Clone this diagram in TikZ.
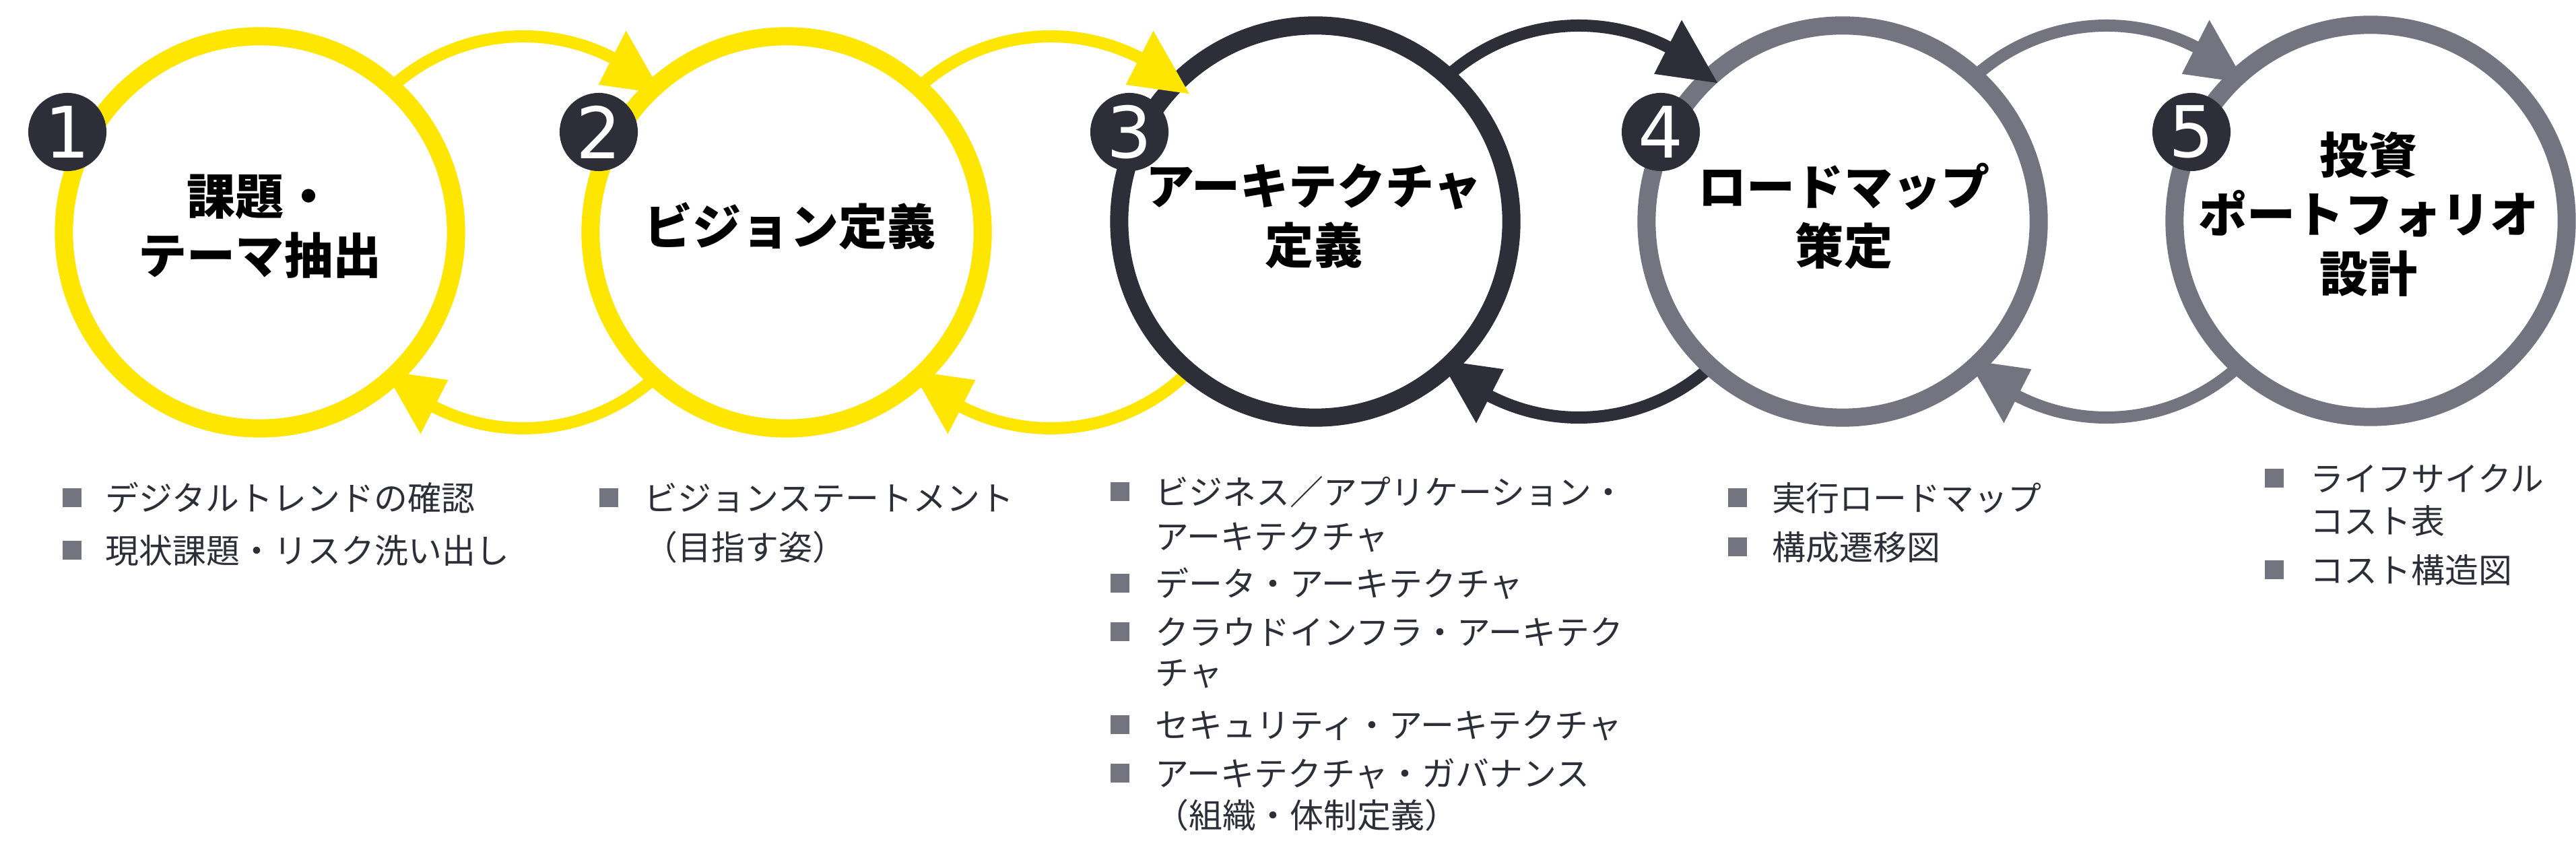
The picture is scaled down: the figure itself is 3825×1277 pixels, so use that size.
\documentclass[tikz,border=0pt]{standalone}
\usepackage{fontspec}
\setmainfont{Noto Sans CJK JP}
\newfontfamily\digitfont{DejaVu Sans}
\usetikzlibrary{calc}
\definecolor{eyyellow}{HTML}{FFE600}
\definecolor{eydark}{HTML}{2E2E38}
\definecolor{eygrey}{HTML}{747480}
\begin{document}
\begin{tikzpicture}[x=0.01cm,y=-0.01cm,
  ring/.style={circle, line width=0.27cm, fill=white, minimum size=5.82cm, inner sep=0pt},
  link/.style={line width=0.18cm},
  badge/.style={circle, fill=eydark, minimum size=1.16cm, inner sep=0pt, text=white,
    font=\digitfont\fontsize{30}{30}\selectfont},
  ttl/.style={align=center, font=\bfseries\fontsize{20.5}{25}\selectfont, text=black, inner sep=0pt},
  itm/.style={anchor=west, inner sep=0pt, text=eydark, font=\fontsize{14.2}{17}\selectfont,
    text height=0.44cm, text depth=0.06cm},
  sq/.style={fill=eygrey, minimum size=0.28cm, inner sep=0pt}
]
\useasboundingbox[fill=white] (0,0) rectangle (3825,1277);

% centres of the link arcs
\coordinate (M12) at (777,345);
\coordinate (M23) at (1560,345);
\coordinate (M34) at (2344.5,329);
\coordinate (M45) at (3128,329);

% link arcs (behind the rings)
\foreach \m/\c in {M12/eyyellow, M23/eyyellow, M34/eydark, M45/eygrey}{
  \coordinate (\m us) at ($(\m)+(-140:291)$);
  \coordinate (\m ls) at ($(\m)+(40:291)$);
  \draw[link, \c] (\m us) arc[start angle=-140, end angle=-58, radius=291];
  \draw[link, \c] (\m ls) arc[start angle=40, end angle=122, radius=291];
}

% rings
\node[ring, draw=eyyellow] (c1) at (386,345) {};
\node[ring, draw=eyyellow] (c2) at (1168,345) {};
\node[ring, draw=eydark] (c3) at (1953,329) {};
\node[ring, draw=eygrey] (c4) at (2736,329) {};
\node[ring, draw=eygrey] (c5) at (3520,328) {};

% arrow heads
\foreach \m/\c in {M12/eyyellow, M23/eyyellow, M34/eydark, M45/eygrey}{
  \fill[\c] ($(\m)+(-45:291)$) -- ($(\m)+(-63:246)$) -- ($(\m)+(-63:336)$) -- cycle;
  \fill[\c] ($(\m)+(135:291)$) -- ($(\m)+(117:246)$) -- ($(\m)+(117:336)$) -- cycle;
}

% number badges
\node[badge] (b1) at (100,196) {1};
\node[badge] (b2) at (889,196) {2};
\node[badge] (b3) at (1677,196) {3};
\node[badge] (b4) at (2466,196) {4};
\node[badge] (b5) at (3254,196) {5};

% titles
\node[ttl] (t1) at (386,336) {課題・\\テーマ抽出};
\node[ttl] (t2) at (1173,336) {ビジョン定義};
\node[ttl] (t3) at (1951,321) {アーキテクチャ\\定義};
\node[ttl] (t4) at (2738,321) {ロードマップ\\策定};
\node[ttl] (t5) at (3517,318) {投資\\ポートフォリオ\\設計};

% list 1
\node[sq] (s1a) at (107,739) {};
\node[itm] (l1a) at (156,739) {デジタルトレンドの確認};
\node[sq] (s1b) at (107,817) {};
\node[itm] (l1b) at (156,817) {現状課題・リスク洗い出し};
% list 2
\node[sq] (s2a) at (904,739) {};
\node[itm] (l2a) at (956,739) {ビジョンステートメント};
\node[itm] (l2b) at (956,812) {（目指す姿）};
% list 3
\node[sq] (s3a) at (1663,730) {};
\node[itm] (l3a) at (1715,730) {ビジネス／アプリケーション・};
\node[itm] (l3b) at (1715,796) {アーキテクチャ};
\node[sq] (s3c) at (1663,866) {};
\node[itm] (l3c) at (1715,866) {データ・アーキテクチャ};
\node[sq] (s3d) at (1663,938) {};
\node[itm] (l3d) at (1715,938) {クラウドインフラ・アーキテク};
\node[itm] (l3e) at (1715,998) {チャ};
\node[sq] (s3f) at (1663,1076) {};
\node[itm] (l3f) at (1715,1076) {セキュリティ・アーキテクチャ};
\node[sq] (s3g) at (1663,1148) {};
\node[itm] (l3g) at (1715,1148) {アーキテクチャ・ガバナンス};
\node[itm] (l3h) at (1715,1210) {（組織・体制定義）};
% list 4
\node[sq] (s4a) at (2580,739) {};
\node[itm] (l4a) at (2631,739) {実行ロードマップ};
\node[sq] (s4b) at (2580,812) {};
\node[itm] (l4b) at (2631,812) {構成遷移図};
% list 5
\node[sq] (s5a) at (3377,710) {};
\node[itm] (l5a) at (3430,710) {ライフサイクル};
\node[itm] (l5b) at (3430,773) {コスト表};
\node[sq] (s5c) at (3377,846) {};
\node[itm] (l5c) at (3430,846) {コスト構造図};
\end{tikzpicture}
\end{document}
